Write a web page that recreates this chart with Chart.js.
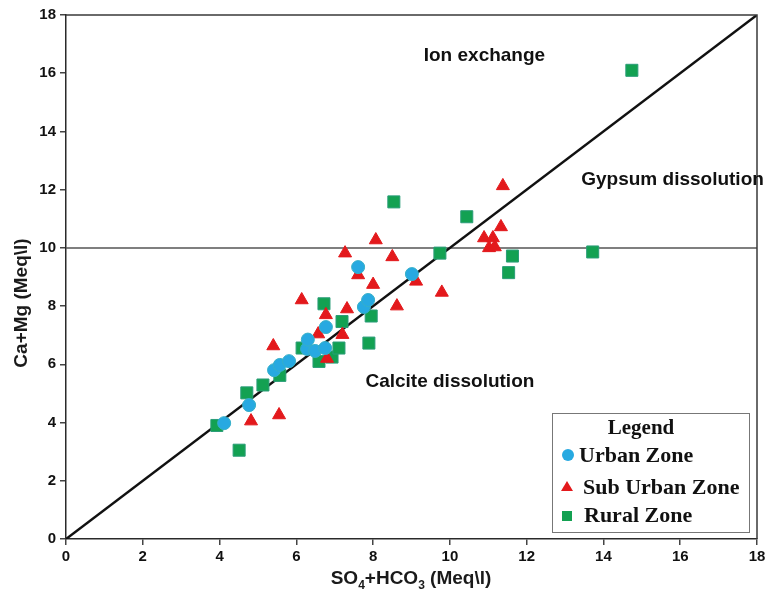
<!DOCTYPE html>
<html>
<head>
<meta charset="utf-8">
<script src="https://cdn.jsdelivr.net/npm/chart.js@4.4.1/dist/chart.umd.min.js"></script>
<style>
  html, body { margin: 0; padding: 0; background: #fff; }
  #wrap { position: relative; width: 769px; height: 599px; }
</style>
</head>
<body>
<div id="wrap"><canvas id="c" width="769" height="599"></canvas></div>
<script>
// ---- data ----
const urbanX = [4.12, 4.77, 5.42, 5.57, 5.81, 6.28, 6.30, 6.49, 6.75, 6.77, 7.61, 7.76, 7.87, 9.01];
const urbanY = [3.98, 4.60, 5.80, 5.98, 6.11, 6.53, 6.85, 6.46, 6.56, 7.28, 9.34, 7.97, 8.21, 9.10];

const subUrbanX = [4.82, 5.55, 5.40, 6.14, 6.57, 6.77, 6.80, 7.20, 7.32, 7.27, 7.61, 8.00, 8.07, 8.50, 8.62, 9.12, 9.79, 10.89, 11.12, 11.02, 11.17, 11.33, 11.38];
const subUrbanY = [4.05, 4.26, 6.63, 8.21, 7.04, 7.70, 6.20, 7.02, 7.90, 9.82, 9.07, 8.74, 10.27, 9.69, 8.00, 8.85, 8.47, 10.34, 10.34, 10.00, 10.03, 10.72, 12.13];

const ruralX = [3.93, 4.51, 4.71, 5.13, 5.57, 6.15, 6.59, 6.72, 6.93, 7.11, 7.19, 7.89, 7.95, 8.54, 9.74, 10.44, 11.53, 11.63, 13.72, 14.74];
const ruralY = [3.90, 3.05, 5.02, 5.29, 5.62, 6.56, 6.10, 8.08, 6.25, 6.56, 7.47, 6.73, 7.66, 11.58, 9.82, 11.07, 9.15, 9.72, 9.86, 16.10];

const equilineX = [0, 18];
const equilineY = [0, 18];
const refLineX = [0, 18];
const refLineY = [10, 10];

const axisMin = 0, axisMax = 18, axisStep = 2;
const seriesNames = ['Urban Zone', 'Sub Urban Zone', 'Rural Zone'];
const zoneLabels = [
  { text: 'Ion exchange', x: 10.9, y: 16.6 },
  { text: 'Gypsum dissolution', x: 15.8, y: 12.35 },
  { text: 'Calcite dissolution', x: 10.0, y: 5.4 }
];
const xTitleParts = [['SO', 0], ['4', 1], ['+HCO', 0], ['3', 1], [' (Meq\\l)', 0]];
const yTitle = 'Ca+Mg (Meq\\l)';

const pts = (xs, ys) => xs.map((x, i) => ({ x: x, y: ys[i] }));

const BLUE = '#27a9e1', RED = '#e3191c', GREEN = '#13a152';
const SANS = '"Liberation Sans", Arial, sans-serif';
const SERIF = '"Liberation Serif", "Times New Roman", serif';

const decor = {
  id: 'decor',
  afterDatasetsDraw(chart) {
    const ctx = chart.ctx, a = chart.chartArea;
    const xs = chart.scales.x, ys = chart.scales.y;
    ctx.save();
    // frame top/right
    ctx.strokeStyle = '#3a3a3a';
    ctx.lineWidth = 1.5;
    ctx.beginPath();
    ctx.moveTo(a.left, a.top); ctx.lineTo(a.right, a.top); ctx.lineTo(a.right, a.bottom);
    ctx.stroke();
    // zone labels
    ctx.fillStyle = '#111';
    ctx.font = 'bold 19px ' + SANS;
    ctx.textAlign = 'center';
    ctx.textBaseline = 'middle';
    zoneLabels.forEach(z => ctx.fillText(z.text, xs.getPixelForValue(z.x), ys.getPixelForValue(z.y)));

    // y title
    ctx.save();
    ctx.translate(22, 303);
    ctx.rotate(-Math.PI / 2);
    ctx.font = 'bold 19px ' + SANS;
    ctx.fillStyle = '#1a1a1a';
    ctx.textAlign = 'center';
    ctx.textBaseline = 'middle';
    ctx.fillText(yTitle, 0, 0);
    ctx.restore();

    // x title with subscripts
    const big = 'bold 19px ' + SANS, small = 'bold 12px ' + SANS;
    let w = 0;
    xTitleParts.forEach(p => { ctx.font = p[1] ? small : big; w += ctx.measureText(p[0]).width; });
    let cx = 411 - w / 2;
    const by = 584;
    ctx.textAlign = 'left';
    ctx.textBaseline = 'alphabetic';
    ctx.fillStyle = '#1a1a1a';
    xTitleParts.forEach(p => {
      ctx.font = p[1] ? small : big;
      ctx.fillText(p[0], cx, p[1] ? by + 5 : by);
      cx += ctx.measureText(p[0]).width;
    });

    // legend box
    const L = 552, T = 413, R = 749, B = 532;
    ctx.fillStyle = '#fff';
    ctx.fillRect(L, T, R - L, B - T);
    ctx.strokeStyle = '#777';
    ctx.lineWidth = 1;
    ctx.strokeRect(L + 0.5, T + 0.5, R - L, B - T);
    ctx.fillStyle = '#111';
    ctx.font = 'bold 21px ' + SERIF;
    ctx.textAlign = 'center';
    ctx.textBaseline = 'middle';
    ctx.fillText('Legend', 641, 429);
    ctx.textAlign = 'left';
    ctx.font = 'bold 22px ' + SERIF;
    // markers
    ctx.fillStyle = BLUE;
    ctx.beginPath(); ctx.arc(568, 455, 6, 0, Math.PI * 2); ctx.fill();
    ctx.fillStyle = RED;
    ctx.beginPath(); ctx.moveTo(567, 481); ctx.lineTo(573, 491); ctx.lineTo(561, 491); ctx.closePath(); ctx.fill();
    ctx.fillStyle = GREEN;
    ctx.fillRect(562, 511, 10, 10);
    ctx.fillStyle = '#111';
    ctx.fillText(seriesNames[0], 579, 456);
    ctx.fillText(seriesNames[1], 583, 488);
    ctx.fillText(seriesNames[2], 584, 516);
    ctx.restore();
  }
};

const tickFont = { family: SANS, size: 15, weight: 'bold' };

new Chart(document.getElementById('c'), {
  type: 'scatter',
  data: {
    datasets: [
      { label: seriesNames[0], data: pts(urbanX, urbanY), pointStyle: 'circle', pointRadius: 6.5,
        backgroundColor: BLUE, borderColor: '#36b0c8', borderWidth: 1, order: 0 },
      { label: seriesNames[1], data: pts(subUrbanX, subUrbanY), pointStyle: 'triangle', pointRadius: 7.5,
        backgroundColor: RED, borderColor: RED, borderWidth: 1, order: 1 },
      { label: seriesNames[2], data: pts(ruralX, ruralY), pointStyle: 'rect', pointRadius: 8.5,
        backgroundColor: GREEN, borderColor: '#2a9d78', borderWidth: 1, order: 2 },
      { label: '1:1', data: pts(equilineX, equilineY), showLine: true, pointRadius: 0,
        borderColor: '#111', borderWidth: 2.5, order: 3 },
      { label: 'ref', data: pts(refLineX, refLineY), showLine: true, pointRadius: 0,
        borderColor: '#555', borderWidth: 1.5, order: 4 }
    ]
  },
  options: {
    responsive: false,
    animation: false,
    layout: { padding: { top: 15, right: 12, left: 0, bottom: 0 } },
    plugins: { legend: { display: false }, tooltip: { enabled: false } },
    scales: {
      x: {
        type: 'linear', min: axisMin, max: axisMax,
        ticks: { stepSize: axisStep, font: tickFont, color: '#111', padding: 3 },
        grid: { drawOnChartArea: false, drawTicks: true, tickLength: 6, color: '#444', lineWidth: 1.5 },
        border: { color: '#2a2a2a', width: 1.5 },
        afterFit: s => { s.height = 60; }
      },
      y: {
        type: 'linear', min: axisMin, max: axisMax,
        ticks: { stepSize: axisStep, font: tickFont, color: '#111', padding: 4 },
        grid: { drawOnChartArea: false, drawTicks: true, tickLength: 6, color: '#444', lineWidth: 1.5 },
        border: { color: '#2a2a2a', width: 1.5 },
        afterFit: s => { s.width = 66; }
      }
    }
  },
  plugins: [decor]
});
</script>
</body>
</html>
